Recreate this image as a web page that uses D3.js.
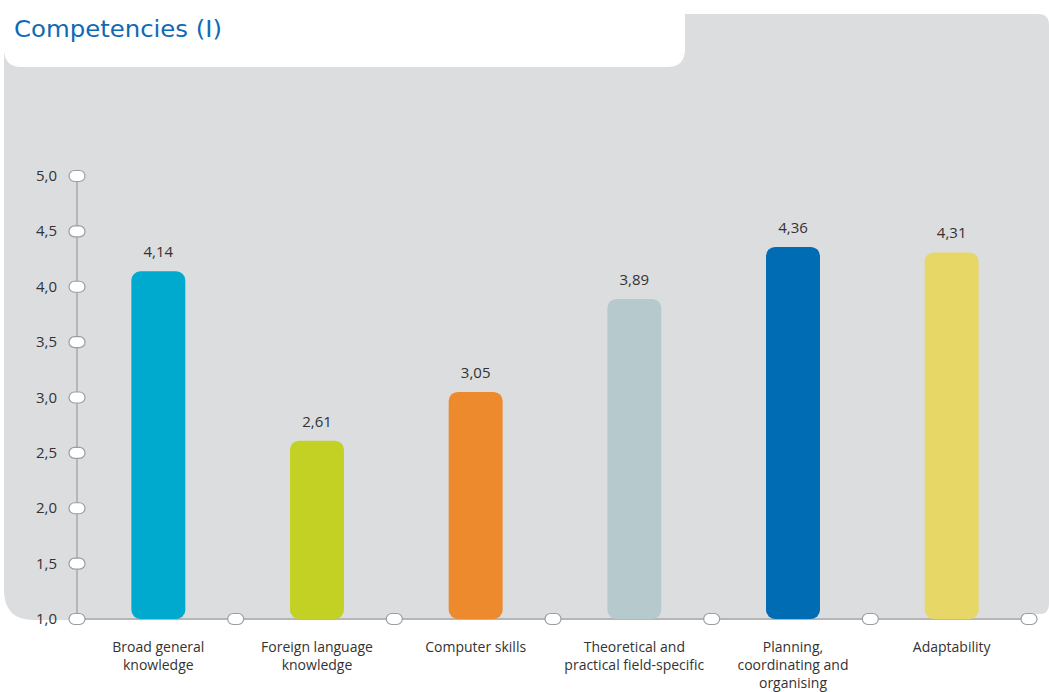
<!DOCTYPE html>
<html><head><meta charset="utf-8">
<script src="https://cdn.jsdelivr.net/npm/d3@7"></script>
<style>body{margin:0;background:#fff;}svg{display:block;}</style>
</head><body>
<svg id="chart" width="1049" height="692"></svg>
<script>
const categories = [
  ["Broad general", "knowledge"],
  ["Foreign language", "knowledge"],
  ["Computer skills"],
  ["Theoretical and", "practical field-specific"],
  ["Planning,", "coordinating and", "organising"],
  ["Adaptability"]
];
const values = [4.14, 2.61, 3.05, 3.89, 4.36, 4.31];
const valueLabels = ["4,14", "2,61", "3,05", "3,89", "4,36", "4,31"];
const colors = ["#00A9CE", "#C3D124", "#EE8A2E", "#B6CACE", "#006CB3", "#E7D767"];
const yTicks = [1.0, 1.5, 2.0, 2.5, 3.0, 3.5, 4.0, 4.5, 5.0];
const yTickLabels = ["1,0", "1,5", "2,0", "2,5", "3,0", "3,5", "4,0", "4,5", "5,0"];
const title = "Competencies (I)";

const svg = d3.select("#chart");
const font = "'Open Sans', sans-serif";

// background panel
svg.append("path")
  .attr("d", "M4,14 H1038 Q1049,14 1049,25 V604 Q1049,614 1040,614 H1030 V620 H34 Q4,620 4,590 Z")
  .attr("fill", "#DCDDDF");
// title box
svg.append("path")
  .attr("d", "M4,0 H685 V49 Q685,67 667,67 H22 Q4,67 4,49 Z")
  .attr("fill", "#fff");
svg.append("text")
  .attr("x", 14).attr("y", 37)
  .attr("fill", "#0F6AB5")
  .attr("font-family", "'DejaVu Sans', sans-serif")
  .attr("font-size", 23)
  .attr("textLength", 208)
  .attr("lengthAdjust", "spacingAndGlyphs")
  .text(title);

const x0 = 77, x1 = 1029;
const x = d3.scaleBand().domain(d3.range(values.length)).range([x0 + 2, x1 + 2]).paddingInner(0.66).paddingOuter(0.33);
const y = d3.scaleLinear().domain([1, 5]).range([619, 176]);

// axes lines
svg.append("line").attr("x1", x0).attr("x2", x0).attr("y1", y(5)).attr("y2", y(1))
  .attr("stroke", "#A7A8AA").attr("stroke-width", 1.5);
svg.append("line").attr("x1", x0).attr("x2", x1).attr("y1", y(1)).attr("y2", y(1))
  .attr("stroke", "#A7A8AA").attr("stroke-width", 1.5);

// bars
const bw = x.bandwidth();
svg.selectAll("rect.bar").data(values).enter().append("rect")
  .attr("class", "bar")
  .attr("x", (d, i) => x(i))
  .attr("y", d => y(d))
  .attr("width", bw)
  .attr("height", d => y(1) - y(d))
  .attr("rx", 9)
  .attr("fill", (d, i) => colors[i]);

// value labels
svg.selectAll("text.val").data(values).enter().append("text")
  .attr("class", "val")
  .attr("x", (d, i) => x(i) + bw / 2)
  .attr("y", d => y(d) - 14)
  .attr("text-anchor", "middle")
  .attr("font-family", font).attr("font-size", 15).attr("fill", "#333")
  .text((d, i) => valueLabels[i]);

// y ticks pills
const pill = (cx, cy) => svg.append("rect")
  .attr("x", cx - 8).attr("y", cy - 5.5).attr("width", 16).attr("height", 11)
  .attr("rx", 5.5).attr("fill", "#fff").attr("stroke", "#9C9D9F").attr("stroke-width", 1.2);
yTicks.forEach(t => pill(x0, y(t)));
svg.selectAll("text.ytick").data(yTicks).enter().append("text")
  .attr("class", "ytick")
  .attr("x", 57).attr("y", d => y(d) + 5)
  .attr("text-anchor", "end")
  .attr("font-family", font).attr("font-size", 15).attr("fill", "#333")
  .text((d, i) => yTickLabels[i]);

// x separators pills
d3.range(1, values.length + 1).forEach(i => pill(x0 + i * (x1 - x0) / values.length, y(1)));

// category labels
categories.forEach((lines, i) => {
  const cx = x(i) + bw / 2;
  const t = svg.append("text")
    .attr("x", cx).attr("y", 652)
    .attr("text-anchor", "middle")
    .attr("font-family", font).attr("font-size", 14).attr("fill", "#333");
  lines.forEach((l, j) => t.append("tspan").attr("x", cx).attr("dy", j === 0 ? 0 : 18).text(l));
});
</script>
</body></html>
